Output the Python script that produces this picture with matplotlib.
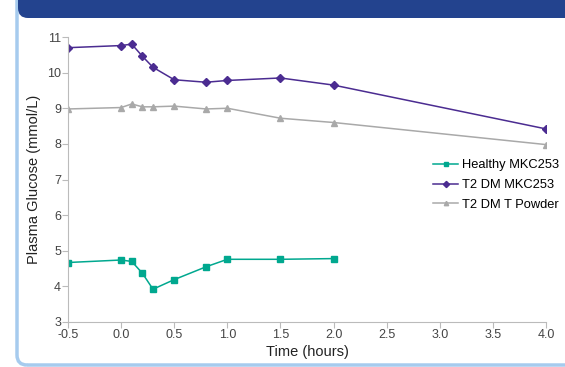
from matplotlib import pyplot as plt
from matplotlib.patches import FancyBboxPatch

plt.rcParams['font.family'] = ['Liberation Sans', 'DejaVu Sans']

# data
time_h = [-0.5, 0.0, 0.1, 0.2, 0.3, 0.5, 0.8, 1.0, 1.5, 2.0, 4.0]
healthy = [4.67, 4.74, 4.70, 4.37, 3.92, 4.19, 4.55, 4.76, 4.76, 4.78]
t2dm_mkc = [10.70, 10.76, 10.80, 10.46, 10.15, 9.80, 9.73, 9.78, 9.85, 9.65, 8.42]
t2dm_powder = [8.98, 9.02, 9.12, 9.04, 9.04, 9.06, 8.98, 9.00, 8.72, 8.60, 7.98]

teal = '#00A88F'
purple = '#4B2C91'
grey = '#A9A9A9'

fig = plt.figure(figsize=(5.65, 3.67), dpi=100)

# panel border and header band (pixel coords)
border = FancyBboxPatch((17, 2), 620, 420, boxstyle='round,pad=0,rounding_size=10',
                        transform=None, facecolor='none', edgecolor='#A6CBEE', linewidth=2.5)
fig.patches.append(border)
header = FancyBboxPatch((18, 349), 620, 80, boxstyle='round,pad=0,rounding_size=10',
                        transform=None, facecolor='#23438E', edgecolor='none')
fig.patches.append(header)

ax = fig.add_axes([68 / 565, 45 / 367, 478 / 565, 285 / 367])

ax.plot(time_h[:len(healthy)], healthy, color=teal, marker='s', markersize=4.5,
        linewidth=1.1, label='Healthy MKC253')
ax.plot(time_h, t2dm_mkc, color=purple, marker='D', markersize=4.5,
        linewidth=1.1, label='T2 DM MKC253')
ax.plot(time_h, t2dm_powder, color=grey, marker='^', markersize=4.5,
        linewidth=1.1, label='T2 DM T Powder')

ax.set_xlim(-0.5, 4.0)
ax.set_ylim(3, 11)
ax.set_xticks([-0.5, 0.0, 0.5, 1.0, 1.5, 2.0, 2.5, 3.0, 3.5, 4.0])
ax.set_xticklabels(['-0.5', '0.0', '0.5', '1.0', '1.5', '2.0', '2.5', '3.0', '3.5', '4.0'])
ax.set_yticks(range(3, 12))

for s in ['top', 'right']:
    ax.spines[s].set_visible(False)
for s in ['left', 'bottom']:
    ax.spines[s].set_color('#BBBBBB')
ax.tick_params(colors='#BBBBBB', labelcolor='#444444', labelsize=9, length=4, pad=1)

ax.set_xlabel('Time (hours)', fontsize=10.5, color='#222222', labelpad=3)
ax.set_ylabel('Plasma Glucose (mmol/L)', fontsize=10.5, color='#222222', labelpad=4)

ax.legend(loc='center left', bbox_to_anchor=(0.74, 0.48), frameon=False,
          fontsize=9.3, handlelength=1.9, handletextpad=0.3, labelspacing=0.6,
          markerscale=0.7)

plt.savefig('out.png', dpi=100)
